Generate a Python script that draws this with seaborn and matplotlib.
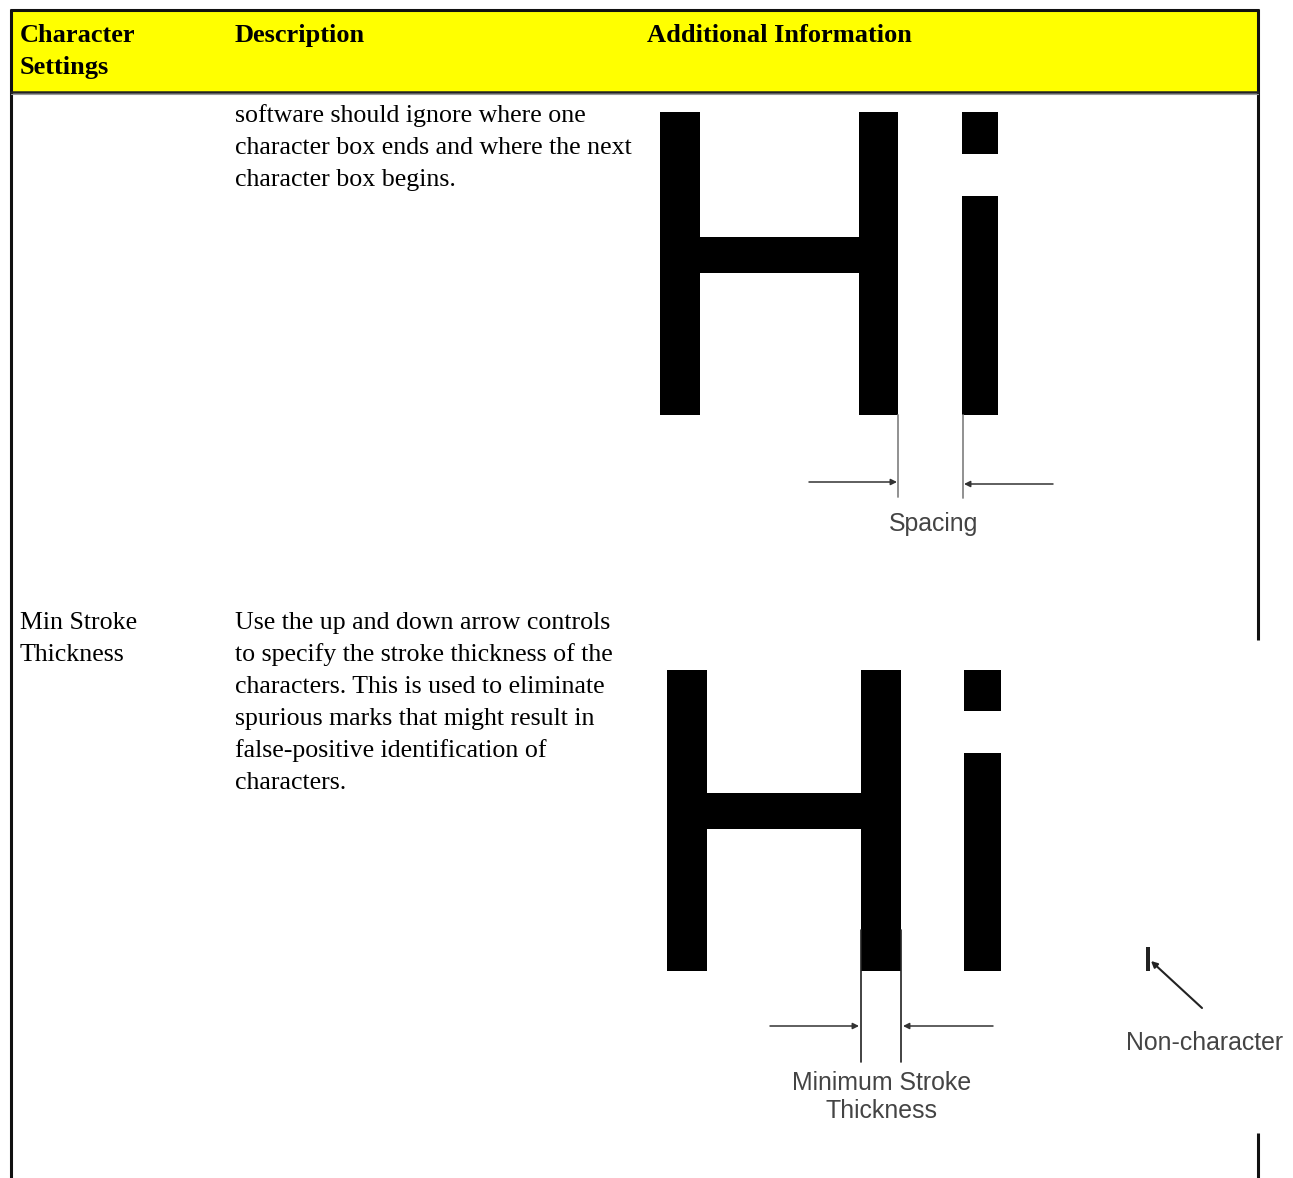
import matplotlib
matplotlib.use("Agg")
import matplotlib.pyplot as plt
from matplotlib.patches import Rectangle
import seaborn as sns

sns.set_theme(style="white")
plt.rcParams['font.family'] = ['Liberation Serif', 'DejaVu Serif']
plt.rcParams['text.color'] = 'black'

# ---- content ----
headers = ["Character\nSettings", "Description", "Additional Information"]
row1_setting = ""
row1_desc = ["software should ignore where one",
             "character box ends and where the next",
             "character box begins."]
row2_setting = ["Min Stroke", "Thickness"]
row2_desc = ["Use the up and down arrow controls",
             "to specify the stroke thickness of the",
             "characters. This is used to eliminate",
             "spurious marks that might result in",
             "false-positive identification of",
             "characters."]
fig1_label = "Spacing"
fig2_label = "Minimum Stroke\nThickness"
fig2_note = "Non-character"

# "Hi" glyph rectangles (x0, y0, x1, y1) in page pixels
hi_top = [(660, 112, 700, 415), (859, 112, 898, 415), (700, 237, 859, 273),
          (962, 112, 998, 154), (962, 196, 998, 415)]
hi_bottom = [(667, 670, 707, 971), (861, 670, 901, 971), (707, 793, 861, 829),
             (964, 670, 1001, 711), (964, 753, 1001, 971)]

W, H = 1293, 1178
fig = plt.figure(figsize=(W / 100, H / 100), dpi=100)
ax = fig.add_axes([0, 0, 1, 1])
ax.set_xlim(0, W)
ax.set_ylim(H, 0)
ax.axis("off")

# header band
ax.add_patch(Rectangle((11, 10), 1247, 82, facecolor="#FFFF00", edgecolor="none", zorder=1))
# borders
kw = dict(color="#111111", lw=2.2, solid_capstyle="butt", zorder=3)
ax.plot([10, 1259], [10, 10], **kw)
ax.plot([11, 11], [9, H], **kw)
ax.plot([1258, 1258], [9, 640], **kw)
ax.plot([1258, 1258], [1133, H], **kw)
ax.plot([11, 1258], [92, 92], color="#222222", lw=1.8, zorder=3)
ax.plot([11, 1258], [94, 94], color="#999999", lw=0.8, zorder=3)

hx = [20, 235, 647]
for x, t in zip(hx, headers):
    for i, line in enumerate(t.split("\n")):
        ax.text(x, 42 + 32 * i, line, fontsize=19, fontweight="bold",
                va="baseline", ha="left", color="black")

body = 18.6
for i, line in enumerate(row1_desc):
    ax.text(235, 122 + 32 * i, line, fontsize=body, va="baseline", ha="left", color="black")
for i, line in enumerate(row2_setting):
    ax.text(20, 629 + 32 * i, line, fontsize=body, va="baseline", ha="left", color="black")
for i, line in enumerate(row2_desc):
    ax.text(235, 629 + 32 * i, line, fontsize=body, va="baseline", ha="left", color="black")

# glyphs
for (x0, y0, x1, y1) in hi_top + hi_bottom:
    ax.add_patch(Rectangle((x0, y0), x1 - x0, y1 - y0, facecolor="black",
                           edgecolor="none", zorder=2))

sans = dict(family=["Liberation Sans", "DejaVu Sans"], color="#444444", fontsize=17.9)
arrow = dict(arrowstyle="-|>", mutation_scale=9, lw=1.1, color="#333333",
             shrinkA=0, shrinkB=0)

# figure 1: spacing
ax.plot([898, 898], [415, 497], color="#888888", lw=1.3, zorder=2)
ax.plot([963, 963], [415, 498], color="#888888", lw=1.3, zorder=2)
ax.annotate("", xy=(897, 482), xytext=(809, 482), arrowprops=arrow)
ax.annotate("", xy=(964, 484), xytext=(1053, 484), arrowprops=arrow)
ax.text(934, 522, fig1_label, ha="center", va="center_baseline", **sans)

# figure 2: minimum stroke thickness
ax.plot([861, 861], [930, 1062], color="#222222", lw=1.2, zorder=3)
ax.plot([901, 901], [930, 1062], color="#222222", lw=1.2, zorder=3)
ax.annotate("", xy=(859, 1026), xytext=(770, 1026), arrowprops=arrow)
ax.annotate("", xy=(903, 1026), xytext=(993, 1026), arrowprops=arrow)
for i, line in enumerate(fig2_label.split("\n")):
    ax.text(882, 1080 + 28 * i, line, ha="center", va="center_baseline", **sans)

# non-character mark
ax.add_patch(Rectangle((1146, 947), 4, 24, facecolor="#222222", edgecolor="none", zorder=2))
ax.annotate("", xy=(1151, 961), xytext=(1202, 1008),
            arrowprops=dict(arrow, lw=1.5, color="#222222"))
ax.text(1126, 1041, fig2_note, ha="left", va="center_baseline", **sans)

fig.savefig("out.png", dpi=100)
